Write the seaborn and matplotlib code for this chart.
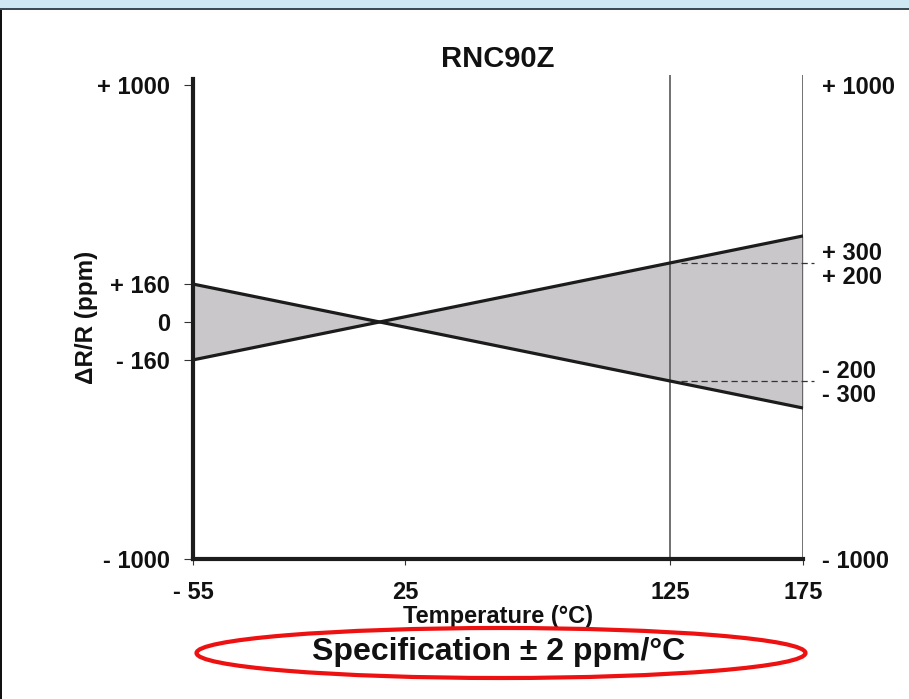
import numpy as np
import pandas as pd
import matplotlib.pyplot as plt
import seaborn as sns
from matplotlib.patches import Ellipse, Rectangle

# values
temps = [-55, 175]
drift_down = [160, -363]
drift_up = [-160, 363]
guide_temps = [125, 175]
dash_temps = [129, 179]
dash_levels = [250, -250]

x_ticks = [-55, 25, 125, 175]
x_labels = ['- 55', '25', '125', '175']
y_ticks = [1000, 160, 0, -160, -1000]
y_labels = ['+ 1000', '+ 160', '0', '- 160', '- 1000']
r_ticks = [1000, 300, 200, -200, -300, -1000]
r_labels = ['+ 1000', '+ 300', '+ 200', '- 200', '- 300', '- 1000']

sns.set_theme(style="white", rc={'text.color': '#111111', 'axes.labelcolor': '#111111',
                                 'xtick.color': '#111111', 'ytick.color': '#111111'})
plt.rcParams['font.family'] = ['Liberation Sans', 'DejaVu Sans']

df = pd.DataFrame({
    'temp': temps * 2,
    'drift': drift_down + drift_up,
    'line': ['down'] * 2 + ['up'] * 2,
})

fig = plt.figure(figsize=(9.09, 6.99), dpi=100)
ax = fig.add_axes([193 / 909, 1 - 559 / 699, 610 / 909, 484 / 699])

ax.fill_between(temps, drift_down, drift_up, color='#c9c7c9', linewidth=0, zorder=1)
sns.lineplot(data=df, x='temp', y='drift', units='line', estimator=None,
             color='#1c1c1c', linewidth=2.3, ax=ax, zorder=3)

for t in guide_temps:
    ax.axvline(t, color='#4a4a4a', linewidth=1.1, zorder=2)
for lvl in dash_levels:
    ax.plot(dash_temps, [lvl, lvl], color='#333333', linewidth=0.9,
            linestyle=(0, (5, 3)), clip_on=False, zorder=2)

ax.set_xlim(-55, 175)
ax.set_ylim(-1000, 1042)
ax.set_xticks(x_ticks)
ax.set_xticklabels(x_labels, fontsize=17, fontweight='bold')
ax.set_yticks(y_ticks)
ax.set_yticklabels(y_labels, fontsize=17, fontweight='bold')
ax.tick_params(axis='y', direction='out', length=6.5, width=0.8, pad=10, left=True, color='#333333')
ax.tick_params(axis='x', direction='out', length=4.5, width=0.8, pad=11, bottom=True, color='#333333')

for side in ['top', 'right']:
    ax.spines[side].set_visible(False)
ax.spines['left'].set_linewidth(3)
ax.spines['bottom'].set_linewidth(3)
ax.spines['left'].set_color('#1c1c1c')
ax.spines['bottom'].set_color('#1c1c1c')
ax.spines['left'].set_bounds(-1000, 1025)

ax.set_xlabel('Temperature (°C)', fontsize=17, fontweight='bold', labelpad=1)
ax.set_ylabel('ΔR/R (ppm)', fontsize=17.5, fontweight='bold')
ax.yaxis.set_label_coords(-0.155, 0.5)
ax.set_title('RNC90Z', fontsize=21, fontweight='bold', pad=6)

ax2 = ax.twinx()
ax2.set_ylim(ax.get_ylim())
ax2.set_yticks(r_ticks)
ax2.set_yticklabels(r_labels, fontsize=17, fontweight='bold')
ax2.tick_params(axis='y', length=0, pad=14, right=True)
for s in ax2.spines.values():
    s.set_visible(False)

fig.text(499 / 909, 1 - 652 / 699, 'Specification ± 2 ppm/°C', fontsize=23,
         fontweight='bold', ha='center', va='center')
fig.patches.append(Ellipse((501 / 909, 1 - 653 / 699), 609 / 909, 50 / 699,
                           transform=fig.transFigure, fill=False,
                           edgecolor='#ee1111', linewidth=3))

# window frame around the screenshot
fig.patches.append(Rectangle((0, 1 - 8 / 699), 1, 8 / 699, transform=fig.transFigure,
                             facecolor='#cfe6f3', edgecolor='none'))
fig.patches.append(Rectangle((0, 1 - 10 / 699), 1, 2 / 699, transform=fig.transFigure,
                             facecolor='#3b4a55', edgecolor='none'))
fig.patches.append(Rectangle((0, 0), 2 / 909, 1 - 10 / 699, transform=fig.transFigure,
                             facecolor='#111111', edgecolor='none'))

fig.savefig('out.png', dpi=100)
